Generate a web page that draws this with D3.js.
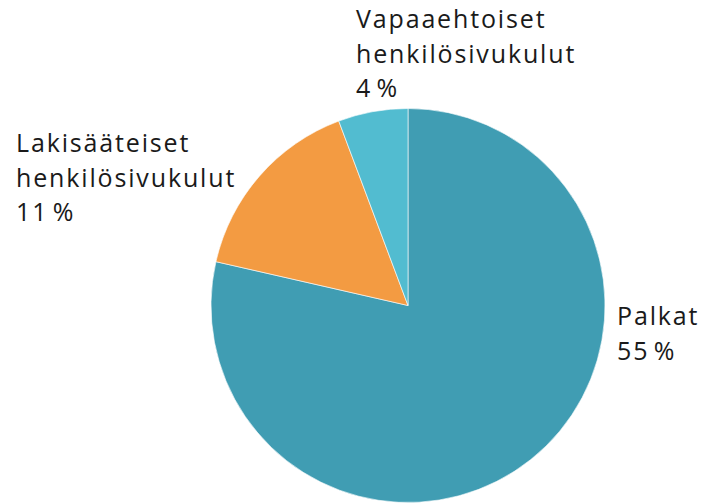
<!DOCTYPE html>
<html>
<head>
<meta charset="utf-8">
<script src="https://cdn.jsdelivr.net/npm/d3@7"></script>
<style>
  html, body { margin: 0; padding: 0; background: #fff; }
  svg { display: block; }
  text { font-family: "Open Sans", sans-serif; fill: #1a1a1a; }
</style>
</head>
<body>
<svg id="chart" width="707" height="504"></svg>
<script>
// data
const categories = ['Palkat', 'Lakisääteiset henkilösivukulut', 'Vapaaehtoiset henkilösivukulut']
const values = [55, 11, 4]
const valueLabels = ['55 %', '11 %', '4 %']
const colors = ['#409db3', '#f39b42', '#52bcd0']

const width = 707
const height = 504
const center = { x: 408, y: 305.5 }
const radius = 197

// where each label block starts (left edge, first baseline)
const labelAnchors = [
  { x: 617, y: 325 },
  { x: 16, y: 152 },
  { x: 356, y: 28 }
]
const lineHeight = 34.5

const svg = d3.select('#chart')

const pie = d3.pie().sort(null).value(d => d)
const arc = d3.arc().innerRadius(0).outerRadius(radius)

const g = svg.append('g').attr('transform', `translate(${center.x},${center.y})`)

g.selectAll('path')
  .data(pie(values))
  .join('path')
  .attr('d', arc)
  .attr('fill', (_, i) => colors[i])
  .attr('stroke', '#ffffff')
  .attr('stroke-width', 0.6)

// labels: category name split over lines, then the percentage
const labels = svg.selectAll('text.label')
  .data(categories)
  .join('text')
  .attr('class', 'label')
  .attr('x', (_, i) => labelAnchors[i].x)
  .attr('y', (_, i) => labelAnchors[i].y)
  .style('font-size', '25px')
  .style('letter-spacing', '1.85px')
  .style('word-spacing', '-4px')

labels.each(function (d, i) {
  const lines = d.split(' ').concat([valueLabels[i]])
  d3.select(this)
    .selectAll('tspan')
    .data(lines)
    .join('tspan')
    .attr('x', labelAnchors[i].x)
    .attr('dy', (_, j) => (j === 0 ? 0 : lineHeight))
    .text(t => t)
})
</script>
</body>
</html>
